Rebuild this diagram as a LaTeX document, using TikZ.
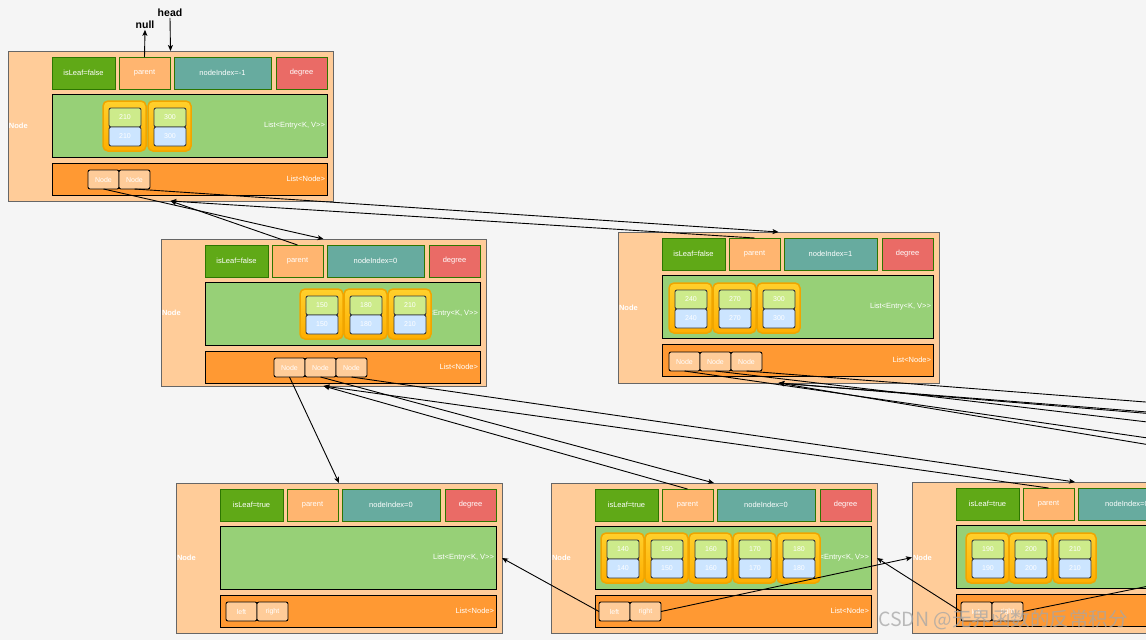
\documentclass[tikz,border=0pt]{standalone}
\usepackage{fontspec}
\setmainfont{Liberation Sans}[Ligatures=NoCommon]
\newfontfamily\cjkfont{Noto Sans CJK SC}
\usetikzlibrary{arrows.meta}
\definecolor{bgc}{HTML}{F5F5F5}
\definecolor{peach}{HTML}{FFCC99}
\definecolor{outerline}{HTML}{666666}
\definecolor{leafgreen}{HTML}{60A917}
\definecolor{darkgreen}{HTML}{2D7600}
\definecolor{parfill}{HTML}{FFB570}
\definecolor{idxfill}{HTML}{67AB9F}
\definecolor{degfill}{HTML}{EA6B66}
\definecolor{entfill}{HTML}{97D077}
\definecolor{listfill}{HTML}{FF9933}
\definecolor{keyfill}{HTML}{CDEB8B}
\definecolor{valfill}{HTML}{CCE5FF}
\definecolor{boxline}{HTML}{36393D}
\definecolor{grptop}{HTML}{FFD02C}
\definecolor{grpbot}{HTML}{FFAE00}
\definecolor{grpline}{HTML}{F0A500}
\tikzset{
  base/.style={inner sep=0pt, outer sep=0pt, font=\fontsize{7.5}{8}\selectfont, text=white},
  outerbox/.style={base, draw=outerline, fill=peach, line width=1pt},
  lbl/.style={base, font=\fontsize{7.5}{8}\selectfont\bfseries},
  leafbox/.style={base, draw=darkgreen, fill=leafgreen, line width=1pt},
  parbox/.style={base, draw=darkgreen, fill=parfill, line width=1pt},
  idxbox/.style={base, draw=darkgreen, fill=idxfill, line width=1pt},
  degbox/.style={base, draw=darkgreen, fill=degfill, line width=1pt},
  entbox/.style={base, draw=black, fill=entfill, line width=1pt},
  listbox/.style={base, draw=black, fill=listfill, line width=1pt},
  grpbox/.style={base, draw=grpline, top color=grptop, bottom color=grpbot, line width=1.5pt, rounded corners=5pt},
  keybox/.style={base, draw=boxline, fill=keyfill, line width=0.9pt, rounded corners=2pt, font=\fontsize{7}{8}\selectfont},
  valbox/.style={base, draw=boxline, fill=valfill, line width=0.9pt, rounded corners=2pt, font=\fontsize{7}{8}\selectfont},
  kidstyle/.style={base, draw=black, fill=peach, line width=0.9pt, rounded corners=2pt, font=\fontsize{7}{8}\selectfont},
  title/.style={inner sep=0pt, outer sep=1pt, font=\fontsize{10.5}{12}\selectfont\bfseries, text=black},
  arr/.style={draw=black, line width=0.9pt, -{Stealth[length=6pt,width=5pt,inset=1.5pt]}},
  ln/.style={draw=black, line width=0.9pt},
}
% name, x, y, w, h, isLeaf, nodeIndex
\newcommand{\bnode}[7]{%
  \node[outerbox, minimum width=#4pt, minimum height=#5pt, anchor=north west] (#1) at (#2,#3) {};
  \node[lbl, anchor=west] (#1-lbl) at (#2+1,#3+#5/2) {Node};
  \node[leafbox, minimum width=63pt, minimum height=32pt, anchor=north west] (#1-leaf) at (#2+44,#3+6) {isLeaf=#6};
  \node[parbox, minimum width=51pt, minimum height=32pt, anchor=north west] (#1-parent) at (#2+111,#3+6) {parent};
  \node[idxbox, minimum width={#4*1pt-228pt}, minimum height=32pt, anchor=north west] (#1-idx) at (#2+166,#3+6) {nodeIndex=#7};
  \node[degbox, minimum width=51pt, minimum height=32pt, anchor=north west] (#1-deg) at (#2+#4-57,#3+6) {degree};
  \node[entbox, minimum width={#4*1pt-50pt}, minimum height=63pt, anchor=north west] (#1-ent) at (#2+44,#3+43) {};
  \node[base, anchor=east] (#1-enttxt) at ([xshift=-2pt]#1-ent.east) {List<{}Entry<{}K, V>{}>};
  \node[listbox, minimum width={#4*1pt-50pt}, minimum height=32pt, anchor=north west] (#1-list) at (#2+44,#3+112) {};
  \node[base, anchor=east] (#1-listtxt) at ([xshift=-2pt]#1-list.east) {List<Node>};
}
% name, x, y, value
\newcommand{\entrygrp}[4]{%
  \node[grpbox, minimum width=43pt, minimum height=50pt, anchor=north west] (#1) at (#2,#3) {};
  \node[keybox, minimum width=32pt, minimum height=19pt, anchor=north west] (#1-k) at (#2+6,#3+7) {#4};
  \node[valbox, minimum width=32pt, minimum height=19pt, anchor=north west] (#1-v) at (#2+6,#3+26) {#4};
}
% name, x, y, text
\newcommand{\kidbox}[4]{%
  \node[kidstyle, minimum width=31pt, minimum height=19pt, anchor=north west] (#1) at (#2,#3) {#4};
}
\begin{document}
\begin{tikzpicture}[x={(1pt,0pt)}, y={(0pt,-1pt)}]
\useasboundingbox (0,0) rectangle (1146,640);
\clip (0,0) rectangle (1146,640);
\fill[bgc] (0,0) rectangle (1146,640);

% root
\bnode{n0}{8}{51}{325}{150}{false}{-1}
\entrygrp{n0e1}{103}{101}{210}
\entrygrp{n0e2}{148}{101}{300}
\kidbox{n0c1}{88}{170}{Node}
\kidbox{n0c2}{119}{170}{Node}

% level 1
\bnode{n1}{161}{239}{325}{147}{false}{0}
\entrygrp{n1e1}{300}{289}{150}
\entrygrp{n1e2}{344}{289}{180}
\entrygrp{n1e3}{388}{289}{210}
\kidbox{n1c1}{274}{358}{Node}
\kidbox{n1c2}{305}{358}{Node}
\kidbox{n1c3}{336}{358}{Node}

\bnode{n2}{618}{232}{321}{151}{false}{1}
\entrygrp{n2e1}{669}{283}{240}
\entrygrp{n2e2}{713}{283}{270}
\entrygrp{n2e3}{757}{283}{300}
\kidbox{n2c1}{669}{352}{Node}
\kidbox{n2c2}{700}{352}{Node}
\kidbox{n2c3}{731}{352}{Node}

% leaves
\bnode{n3}{176}{483}{326}{150}{true}{0}
\kidbox{n3l}{226}{602}{left}
\kidbox{n3r}{257}{602}{right}

\bnode{n4}{551}{483}{326}{150}{true}{0}
\entrygrp{n4e1}{601}{533}{140}
\entrygrp{n4e2}{645}{533}{150}
\entrygrp{n4e3}{689}{533}{160}
\entrygrp{n4e4}{733}{533}{170}
\entrygrp{n4e5}{777}{533}{180}
\kidbox{n4l}{599}{602}{left}
\kidbox{n4r}{630}{602}{right}

\bnode{n5}{912}{482}{326}{151}{true}{0}
\entrygrp{n5e1}{966}{533}{190}
\entrygrp{n5e2}{1009}{533}{200}
\entrygrp{n5e3}{1053}{533}{210}
\kidbox{n5l}{961}{602}{left}
\kidbox{n5r}{992}{602}{right}

% off-canvas ends
\coordinate (n6w) at (1287,558);
\coordinate (offa) at (1300,460);
\coordinate (offb) at (1300,440);
\coordinate (offc) at (1300,414);
\coordinate (offd) at (1300,424);
\coordinate (offe) at (1300,426);
\coordinate (offf) at (1300,470);

% head / null
\node[title] (null) at (145,25) {null};
\node[title] (head) at (170,13) {head};
\draw[arr] (n0-parent.north) -- (null.south);
\draw[arr] (head.south) -- (n0.north);

% connectors
\draw[arr] (n0c1.south) -- (n1.north);
\draw[arr] (n0c2.south) -- (n2.north);
\draw[arr] (n1-parent.north) -- (n0.south);
\draw[arr] (n2-parent.north) -- (n0.south);

\draw[arr] (n1c1.south) -- (n3.north);
\draw[arr] (n1c2.south) -- (n4.north);
\draw[arr] (n1c3.south) -- (n5.north);
\draw[arr] (n4-parent.north) -- (n1.south);
\draw[arr] (n5-parent.north) -- (n1.south);

\draw[arr] (n2c1.south) -- (offa);
\draw[arr] (n2c2.south) -- (offb);
\draw[arr] (n2c3.south) -- (offc);
\draw[arr] (offd) -- (n2.south);
\draw[arr] (offe) -- (n2.south);
\draw[arr] (offf) -- (n2.south);

\draw[arr] (n4l.west) -- (n3.east);
\draw[arr] (n4r.east) -- (n5.west);
\draw[arr] (n5l.west) -- (n4.east);
\draw[arr] (n5r.east) -- (n6w);

% watermark
\node[inner sep=0pt, anchor=west, text=black!35, opacity=0.75, font=\cjkfont\fontsize{19.5}{22}\selectfont] (wm) at (878,620) {CSDN @无界函数的反常积分};
\end{tikzpicture}
\end{document}
